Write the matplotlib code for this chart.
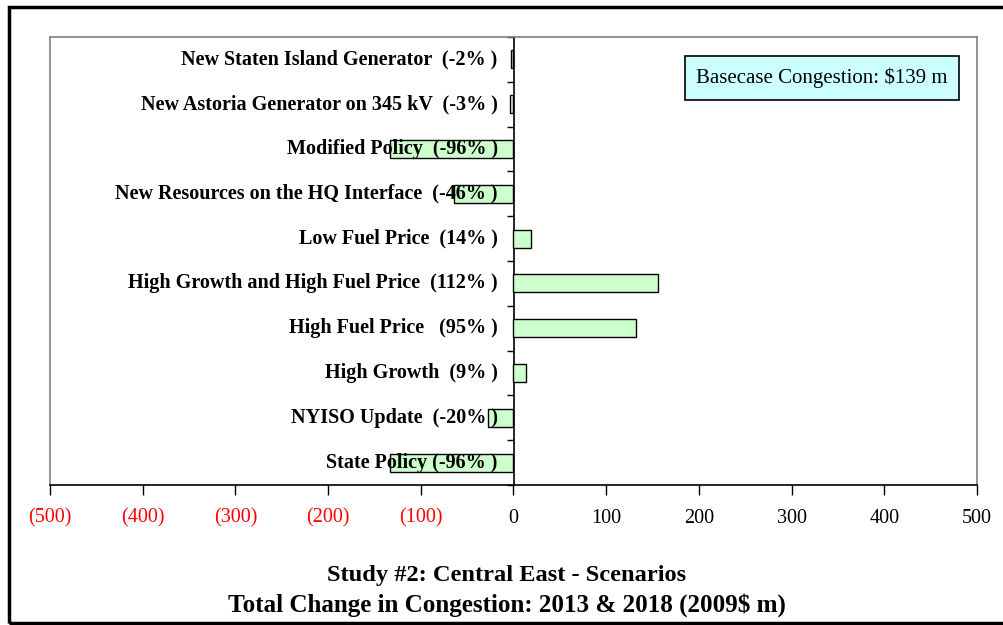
import numpy as np
from matplotlib import pyplot as plt
from matplotlib.patches import Rectangle

scenarios = ["State Policy (-96% )", "NYISO Update  (-20% )", "High Growth  (9% )",
             "High Fuel Price   (95% )", "High Growth and High Fuel Price  (112% )",
             "Low Fuel Price  (14% )", "New Resources on the HQ Interface  (-46% )",
             "Modified Policy  (-96% )", "New Astoria Generator on 345 kV  (-3% )",
             "New Staten Island Generator  (-2% )"]
change = [-133, -28, 13, 132, 156, 19, -64, -133, -4, -3]
xticks = [-500, -400, -300, -200, -100, 0, 100, 200, 300, 400, 500]
title_lines = ["Study #2: Central East - Scenarios",
               "Total Change in Congestion: 2013 & 2018 (2009$ m)"]
basecase = "Basecase Congestion: $139 m"

plt.rcParams['font.family'] = ['Liberation Serif', 'DejaVu Serif']

fig = plt.figure(figsize=(10.04, 6.25), dpi=100)
ax = fig.add_axes([50 / 1004, 1 - 485 / 625, 927 / 1004, 448 / 625])

y = np.arange(len(scenarios))
ax.barh(y, change, height=0.4, color='#ccffcc', edgecolor='black', linewidth=1.0, zorder=3)

for yi, name in zip(y, scenarios):
    ax.text(-17, yi, name, ha='right', va='center', fontsize=14.5,
            fontweight='bold', zorder=4)

ax.set_xlim(-500, 500)
ax.set_ylim(-0.5, len(scenarios) - 0.5)
ax.set_yticks([])
ax.set_xticks(xticks)
ax.set_xticklabels(["(%d)" % -v if v < 0 else "%d" % v for v in xticks], fontsize=14.5)
for lab, v in zip(ax.get_xticklabels(), xticks):
    lab.set_color('red' if v < 0 else 'black')
ax.tick_params(axis='x', direction='out', length=7, width=1, pad=10)

for side in ['left', 'top', 'right']:
    ax.spines[side].set_color('#808080')
    ax.spines[side].set_linewidth(1.2)
ax.spines['bottom'].set_color('black')
ax.spines['bottom'].set_linewidth(1.2)

# zero axis with category separator ticks
sec = ax.secondary_yaxis(0.5)
sec.set_yticks(np.arange(len(scenarios) + 1) - 0.5)
sec.set_yticklabels([])
sec.tick_params(direction='in', length=5, width=1)
sec.spines['right'].set_linewidth(1.2)

ax.text(0.9687, 0.9085, basecase, transform=ax.transAxes, ha='right', va='center',
        fontsize=15, zorder=5,
        bbox=dict(boxstyle='square,pad=0.55', facecolor='#ccffff', edgecolor='black', linewidth=1.2))

fig.text(0.505, 1 - 576 / 625, title_lines[0], ha='center', va='center',
         fontsize=17.6, fontweight='bold')
fig.text(0.505, 1 - 605 / 625, title_lines[1], ha='center', va='center',
         fontsize=18.1, fontweight='bold')

fig.patches.append(Rectangle((9 / 1004, 1 - 623 / 625), 1.2, 616 / 625, transform=fig.transFigure,
                             fill=False, edgecolor='black', linewidth=2.5))

fig.savefig('out.png', dpi=100)
